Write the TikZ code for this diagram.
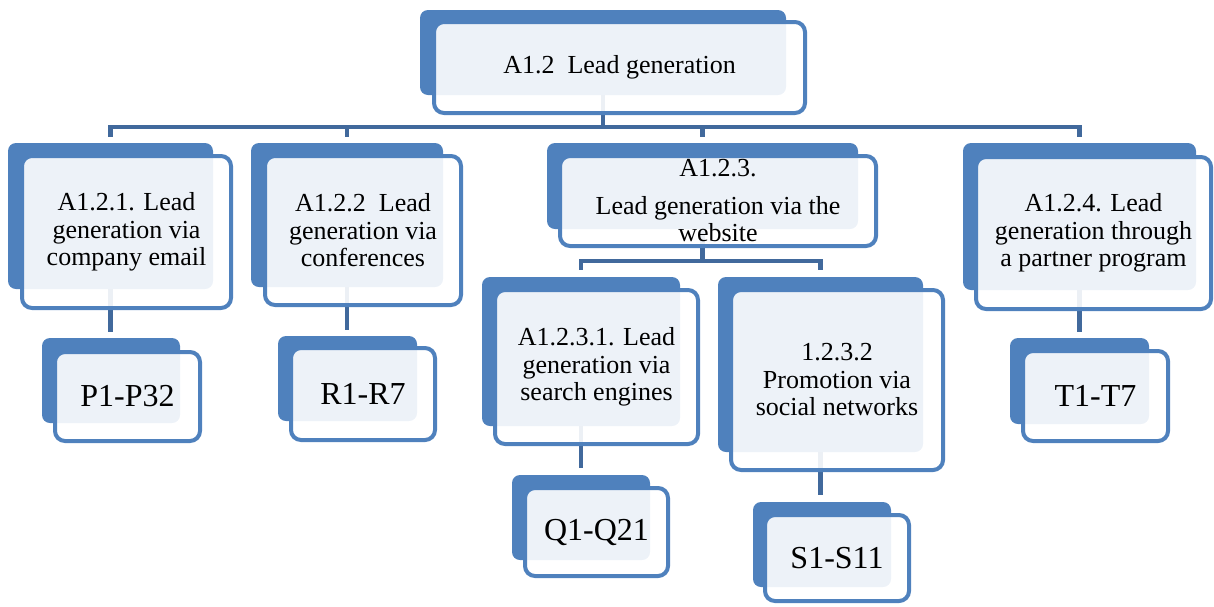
\documentclass[tikz,border=0pt]{standalone}
\usepackage{fontspec}
\setmainfont{Liberation Serif}
\usetikzlibrary{backgrounds}
\definecolor{boxblue}{HTML}{4F81BD}
\definecolor{connblue}{HTML}{41699C}
\tikzset{
 backbox/.style={fill=boxblue, rounded corners=8pt, inner sep=0pt, draw=none},
 frontbox/.style={draw=boxblue, line width=4pt, fill=white, fill opacity=0.9, text opacity=1, rounded corners=10pt, inner sep=0pt, align=center, font=\fontsize{26}{27.5}\selectfont},
 codebox/.style={frontbox, font=\fontsize{32}{34}\selectfont},
 conn/.style={draw=connblue, line width=4.5pt},
}
\newcommand\backshape[5]{\node[backbox, minimum width=#4pt, minimum height=#5pt] (#1) at (#2,#3) {};}
\begin{document}
\begin{tikzpicture}[x=1pt,y=-1pt]
\useasboundingbox (0,0) rectangle (1214,606);
% back shapes
\backshape{btop}{603}{52.5}{366}{85}
\backshape{b1}{110.5}{216}{205}{146}
\backshape{b2}{347}{215}{192}{144}
\backshape{b3}{702.5}{186}{311}{86}
\backshape{b4}{1079.5}{216.5}{233}{147}
\backshape{b31}{581}{351.5}{198}{149}
\backshape{b32}{820.5}{364.5}{205}{175}
\backshape{bP}{111}{380.5}{138}{85}
\backshape{bR}{347.5}{378.5}{139}{85}
\backshape{bQ}{581}{517.5}{138}{85}
\backshape{bS}{822}{544.5}{138}{85}
\backshape{bT}{1079.5}{381}{139}{86}
% front boxes
\node[frontbox, minimum width=371pt, minimum height=91pt] (top) at (619.5,67.5) {A1.2\ \ Lead generation};
\node[frontbox, minimum width=209pt, minimum height=152pt] (f1) at (126.5,232) {A1.2.1. Lead\\ generation via\\ company email};
\node[frontbox, minimum width=196pt, minimum height=149pt] (f2) at (363,230.5) {A1.2.2\ \ Lead\\ generation via\\ conferences};
\node[frontbox, minimum width=316pt, minimum height=90pt] (f3) at (718,201) {A1.2.3.\\[10pt] Lead generation via the\\ website};
\node[frontbox, minimum width=235pt, minimum height=152pt] (f4) at (1093.5,233) {A1.2.4. Lead\\ generation through\\ a partner program};
\node[frontbox, minimum width=203pt, minimum height=154pt] (f31) at (596.5,367) {A1.2.3.1. Lead\\ generation via\\ search engines};
\node[frontbox, minimum width=212pt, minimum height=180pt] (f32) at (837,380) {1.2.3.2\\ Promotion via\\ social networks};
\node[codebox, minimum width=145pt, minimum height=89pt] (fP) at (127.5,396.5) {P1-P32};
\node[codebox, minimum width=144pt, minimum height=92pt] (fR) at (363,394) {R1-R7};
\node[codebox, minimum width=143pt, minimum height=88pt] (fQ) at (596.5,532) {Q1-Q21};
\node[codebox, minimum width=144pt, minimum height=86pt] (fS) at (837,558) {S1-S11};
\node[codebox, minimum width=145pt, minimum height=90pt] (fT) at (1095.5,396) {T1-T7};
% connectors
\begin{pgfonlayer}{background}
\coordinate (bus) at (603,127);
\draw[conn] (btop.south) -- (bus);
\draw[conn, shorten <=6pt, shorten >=6pt] (b1.north) |- (bus) -| (b4.north);
\draw[conn, shorten <=6pt] (b2.north) -- (b2.north |- bus);
\draw[conn, shorten <=6pt] (b3.north) -- (b3.north |- bus);
\coordinate (bus3) at (702.5,261);
\draw[conn] (b3.south) -- (bus3);
\draw[conn, shorten <=7pt, shorten >=7pt] (b31.north) |- (bus3) -| (b32.north);
\draw[conn, shorten >=6pt] (b1.south) -- (b1.south |- bP.north);
\draw[conn, shorten >=6pt] (b2.south) -- (b2.south |- bR.north);
\draw[conn, shorten >=7pt] (b31.south) -- (b31.south |- bQ.north);
\draw[conn, shorten >=7pt] (b32.south) -- (b32.south |- bS.north);
\draw[conn, shorten >=6pt] (b4.south) -- (b4.south |- bT.north);
\end{pgfonlayer}
\end{tikzpicture}
\end{document}
